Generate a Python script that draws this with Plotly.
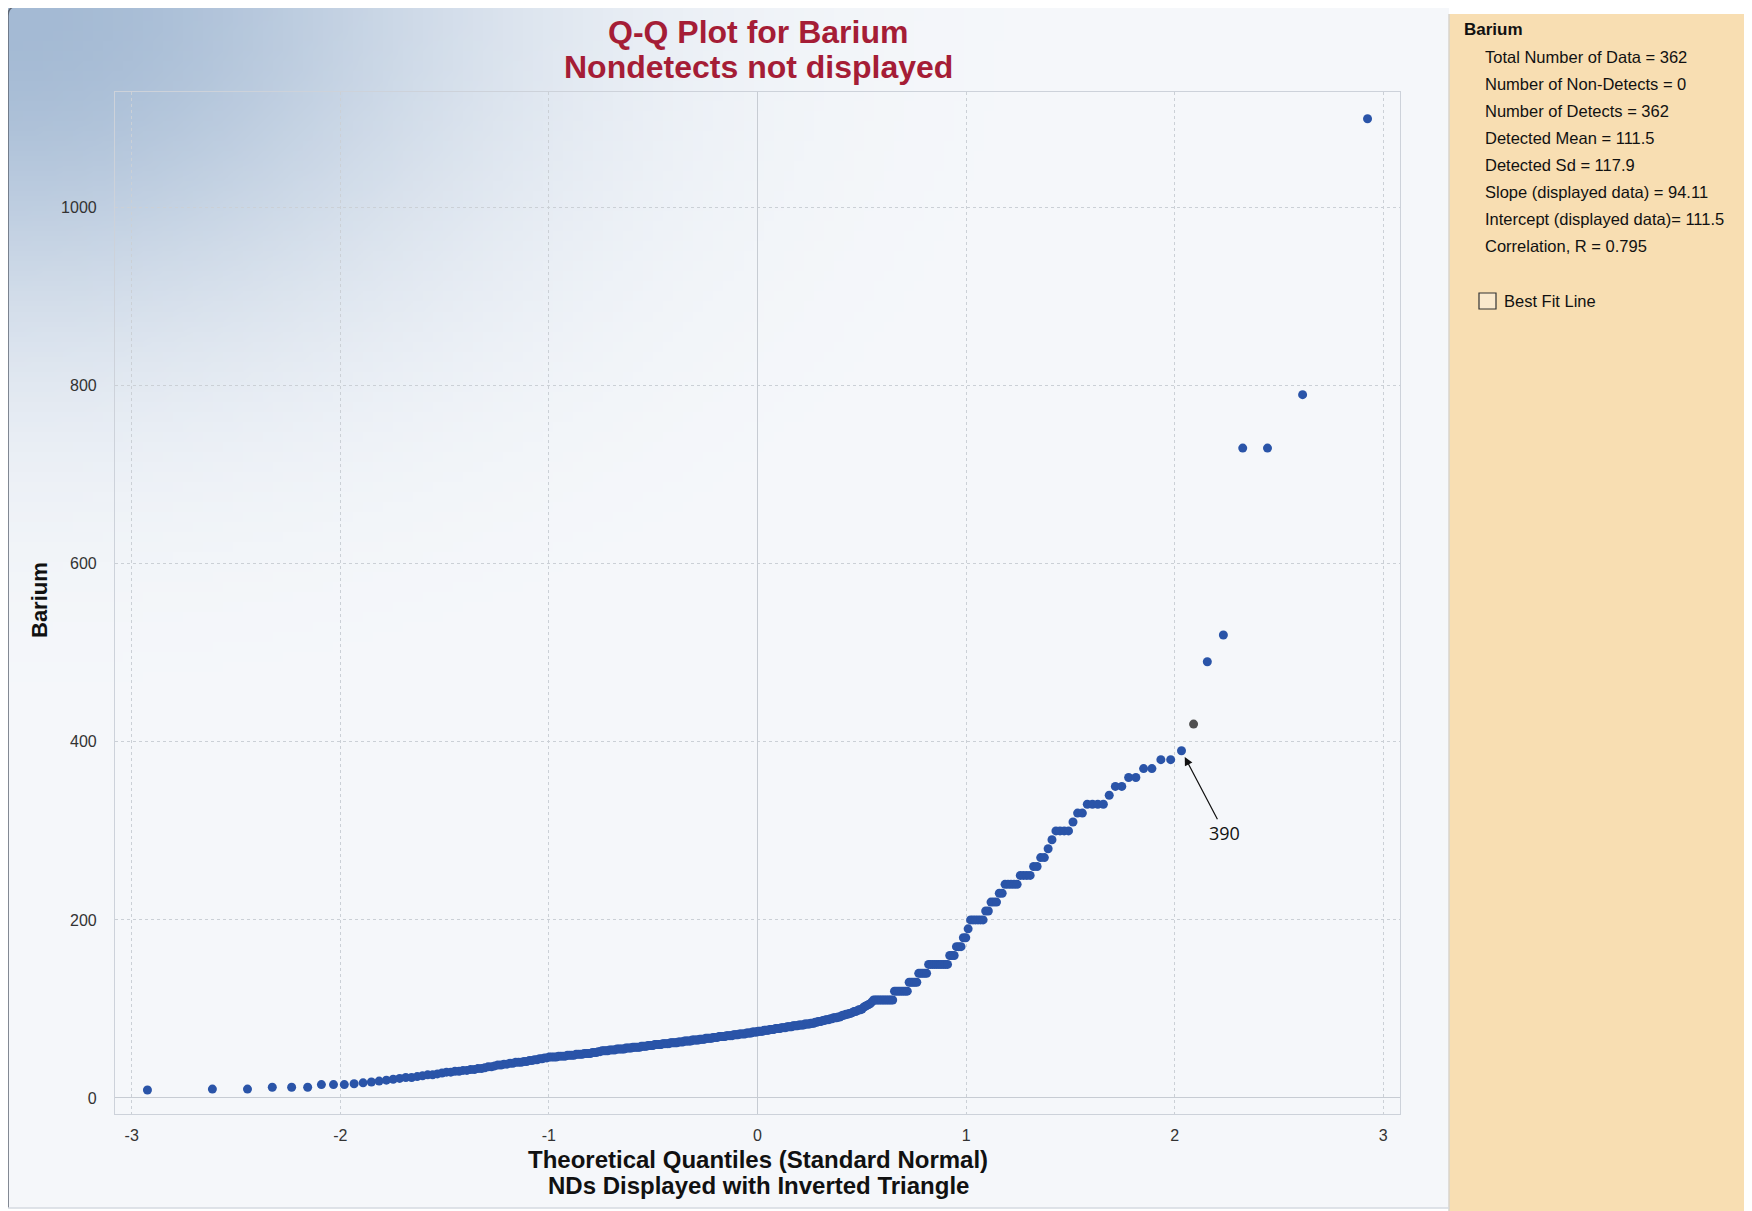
import base64
import struct
import zlib
from statistics import NormalDist

import numpy as np
import plotly.graph_objects as go

# ---------------- data (sorted detected Barium values) ----------------
barium_sorted = [
    9, 10, 10, 12, 12, 12, 15, 15, 15,
    16, 17, 18, 19, 20,
    21, 22, 23, 23, 24, 25, 26, 26, 27, 28,
    29, 29, 30, 30, 31, 31, 32, 32, 33, 33, 34, 35, 35, 36,
    37, 37, 38, 38, 39, 39, 40, 40, 40, 41, 41, 42, 42, 43, 43, 44, 44, 45, 45,
    46, 46, 46, 46, 47, 47, 47, 47, 48, 48, 48, 48, 49, 49, 49, 49, 50, 50, 50, 50,
    51, 51, 51, 52, 52,
    53, 53, 53, 53, 54, 54, 54, 54, 55, 55, 55, 55, 55, 56, 56, 56, 56,
    57, 57, 57, 57, 57, 58, 58, 58, 58, 59, 59, 59, 59,
    60, 60, 60, 60, 60, 61, 61, 61, 61, 61, 62, 62, 62, 62, 62, 63, 63, 63, 63,
    64, 64, 64, 64, 64, 65, 65, 65, 65, 65, 66, 66, 66, 66,
    67, 67, 67, 67, 67, 68, 68, 68, 68, 69, 69, 69, 69, 69, 70, 70, 70, 70, 70,
    71, 71, 71, 71, 72, 72, 72, 72, 72, 73, 73, 73, 73, 74, 74, 74, 74,
    75, 75, 75, 75, 76, 76, 76, 76, 77, 77, 77, 77, 78, 78, 78, 78, 79, 79, 79, 79,
    80, 80, 80, 80, 81, 81, 81, 81, 82, 82, 82, 82, 83, 83, 83, 83,
    84, 84, 84, 85, 85, 86, 86, 86, 87, 87, 88, 88, 88, 89, 89, 90, 90, 90, 91, 91, 92,
    93, 93, 94, 94, 95, 95, 96, 97, 97, 98, 99, 99, 100,
    102, 103, 104, 105, 106, 108,
    110, 110, 110, 110, 110, 110, 110, 110, 110, 110, 110, 110,
    120, 120, 120, 120, 120, 120, 120, 120,
    130, 130, 130, 130, 130,
    140, 140, 140, 140, 140,
    150, 150, 150, 150, 150, 150, 150, 150, 150, 150,
    160, 160, 160, 170, 170, 170, 180, 180, 190,
    200, 200, 200, 200, 200, 200,
    210, 210, 220, 220, 220, 230, 230,
    240, 240, 240, 240, 240, 250, 250, 250, 250,
    260, 260, 270, 270, 280, 290,
    300, 300, 300, 300, 310, 320, 320, 330, 330, 330, 330, 340,
    350, 350, 360, 360, 370, 370, 380, 380, 390,
    420, 490, 520, 730, 730, 790, 1100,
]
grey_rank = 356          # 1-based rank of the point drawn in grey
label_rank = 355         # 1-based rank of the labelled point
label_text = "390"

x_tick_vals = [-3, -2, -1, 0, 1, 2, 3]
x_tick_text = ["-3", "-2", "-1", "0", "1", "2", "3"]
y_tick_vals = [0, 200, 400, 600, 800, 1000]
y_tick_text = ["0", "200", "400", "600", "800", "1000"]

panel_title = "Barium"
panel_lines = [
    "Total Number of Data = 362",
    "Number of Non-Detects = 0",
    "Number of Detects = 362",
    "Detected Mean = 111.5",
    "Detected Sd = 117.9",
    "Slope (displayed data) = 94.11",
    "Intercept (displayed data)= 111.5",
    "Correlation, R = 0.795",
]
checkbox_label = "Best Fit Line"

# ---------------- theoretical quantiles (Blom plotting positions) ----------------
n = len(barium_sorted)
nd = NormalDist()
quantiles = [nd.inv_cdf((i - 0.375) / (n + 0.25)) for i in range(1, n + 1)]
colors = ["#505050" if i + 1 == grey_rank else "#2A54A8" for i in range(n)]

# ---------------- geometry helpers (screen pixel -> paper) ----------------
OFF = 8                     # page body margin
W, H = 1752, 1211           # screen size
FW, FH = W - OFF, H - OFF   # figure size
L, R, T, B = 115, 1400, 92, 1114   # plot area in screen pixels


def px(x):
    return (x - L) / (R - L)


def py(y):
    return (B - y) / (B - T)


# ---------------- gradient background image ----------------
def png_uri(rgb):
    h, w, _ = rgb.shape
    raw = b"".join(b"\x00" + rgb[r].tobytes() for r in range(h))

    def chunk(tag, data):
        c = struct.pack(">I", len(data)) + tag + data
        return c + struct.pack(">I", zlib.crc32(tag + data) & 0xFFFFFFFF)

    png = (b"\x89PNG\r\n\x1a\n"
           + chunk(b"IHDR", struct.pack(">IIBBBBB", w, h, 8, 2, 0, 0, 0))
           + chunk(b"IDAT", zlib.compress(raw, 9))
           + chunk(b"IEND", b""))
    return "data:image/png;base64," + base64.b64encode(png).decode()


gx0, gy0, gx1, gy1 = 8, 6, 1449, 1208
gw, gh = 144, 120
xs = (np.arange(gw) + 0.5) * (gx1 - gx0) / gw
ys = (np.arange(gh) + 0.5) * (gy1 - gy0) / gh
XX, YY = np.meshgrid(xs, ys)
t = np.exp(-((XX / 470.0) ** 2 + (YY / 320.0) ** 2))[..., None]
base = np.array([246, 248, 251], float)
corner = np.array([164, 186, 212], float)
img = (base * (1 - t) + corner * t).clip(0, 255).astype(np.uint8)
grad_uri = png_uri(img)

# ---------------- figure ----------------
fig = go.Figure()
fig.add_trace(go.Scatter(
    x=quantiles, y=barium_sorted, mode="markers",
    marker=dict(size=9, color=colors, line=dict(width=0)),
    showlegend=False, hoverinfo="x+y",
))

FONT = "Liberation Sans, Arial"
annotations = []


def note(text, x, y, size, color="#111111", anchor="center", angle=0):
    annotations.append(dict(text=text, x=px(x), y=py(y), xref="paper", yref="paper",
                            showarrow=False, textangle=angle,
                            font=dict(family=FONT, size=size, color=color),
                            xanchor=anchor, yanchor="middle"))


# chart title
note("<b>Q-Q Plot for Barium</b>", 758, 32, 32, "#A51D36")
note("<b>Nondetects not displayed</b>", 758, 67, 32, "#A51D36")
# axis titles
note("<b>Theoretical Quantiles (Standard Normal)</b>", 758, 1159, 24)
note("<b>NDs Displayed with Inverted Triangle</b>", 758, 1185, 24)
note("<b>Barium</b>", 39, 600, 22, angle=-90)
# labelled point
annotations.append(dict(text=label_text, x=quantiles[label_rank - 1], y=barium_sorted[label_rank - 1],
                        xref="x", yref="y", showarrow=True, ax=43, ay=82,
                        arrowhead=2, arrowsize=1.4, arrowwidth=1.2, arrowcolor="#111111",
                        standoff=7, font=dict(family="Open Sans", size=18, color="#111111")))
# side panel
note("<b>" + panel_title + "</b>", 1462, 30, 17, anchor="left")
panel_y = [57, 84, 111, 138, 165, 192, 219, 246]
for txt, yy in zip(panel_lines, panel_y):
    note(txt, 1483, yy, 16.5, anchor="left")
note(checkbox_label, 1502, 301, 16.5, anchor="left")

shapes = [
    # right panel
    dict(type="rect", xref="paper", yref="paper", x0=px(1449), x1=px(1770), y0=py(1230), y1=py(14),
         fillcolor="#F8DEB2", line=dict(width=0), layer="below"),
    dict(type="line", xref="paper", yref="paper", x0=px(1449), x1=px(1449), y0=py(1230), y1=py(14),
         line=dict(color="#D9D4CC", width=1.5), layer="below"),
    # outer chart border (left + top)
    dict(type="path", xref="paper", yref="paper",
         path=f"M {px(8)},{py(1208)} L {px(8)},{py(16)} Q {px(8)},{py(6)} {px(18)},{py(6)} L {px(1449)},{py(6)}",
         line=dict(color="#5E6673", width=1.5), layer="below"),
    dict(type="line", xref="paper", yref="paper", x0=px(8), x1=px(1449), y0=py(1208), y1=py(1208),
         line=dict(color="#D5DAE0", width=1.5), layer="below"),
    # checkbox
    dict(type="rect", xref="paper", yref="paper", x0=px(1479), x1=px(1496), y0=py(309), y1=py(293),
         fillcolor="rgba(255,255,255,0.35)", line=dict(color="#333333", width=1.2)),
]

images = [dict(source=grad_uri, xref="paper", yref="paper", x=px(gx0), y=py(gy0),
               sizex=(gx1 - gx0) / (R - L), sizey=(gy1 - gy0) / (B - T),
               xanchor="left", yanchor="top", sizing="stretch", layer="below")]

axis_common = dict(showgrid=True, gridcolor="#CBD0D6", griddash="dot", gridwidth=1,
                   zeroline=True, zerolinecolor="#C7CCD3", zerolinewidth=1.2,
                   showline=True, linecolor="#CDD2DA", linewidth=1.2, mirror=True,
                   ticks="", tickfont=dict(family=FONT, size=16, color="#333333"))

fig.update_layout(
    width=FW, height=FH, autosize=False,
    margin=dict(l=L - OFF, r=FW - (R - OFF), t=T - OFF, b=FH - (B - OFF), pad=0),
    paper_bgcolor="#FFFFFF", plot_bgcolor="rgba(0,0,0,0)",
    xaxis=dict(range=[-3.08, 3.08], tickvals=x_tick_vals, ticktext=x_tick_text,
               ticklabelstandoff=7, **axis_common),
    yaxis=dict(range=[-18, 1130], tickvals=y_tick_vals, ticktext=y_tick_text,
               ticklabelstandoff=14, **axis_common),
    annotations=annotations, shapes=shapes, images=images,
    showlegend=False,
)

fig.write_html("out.html")
